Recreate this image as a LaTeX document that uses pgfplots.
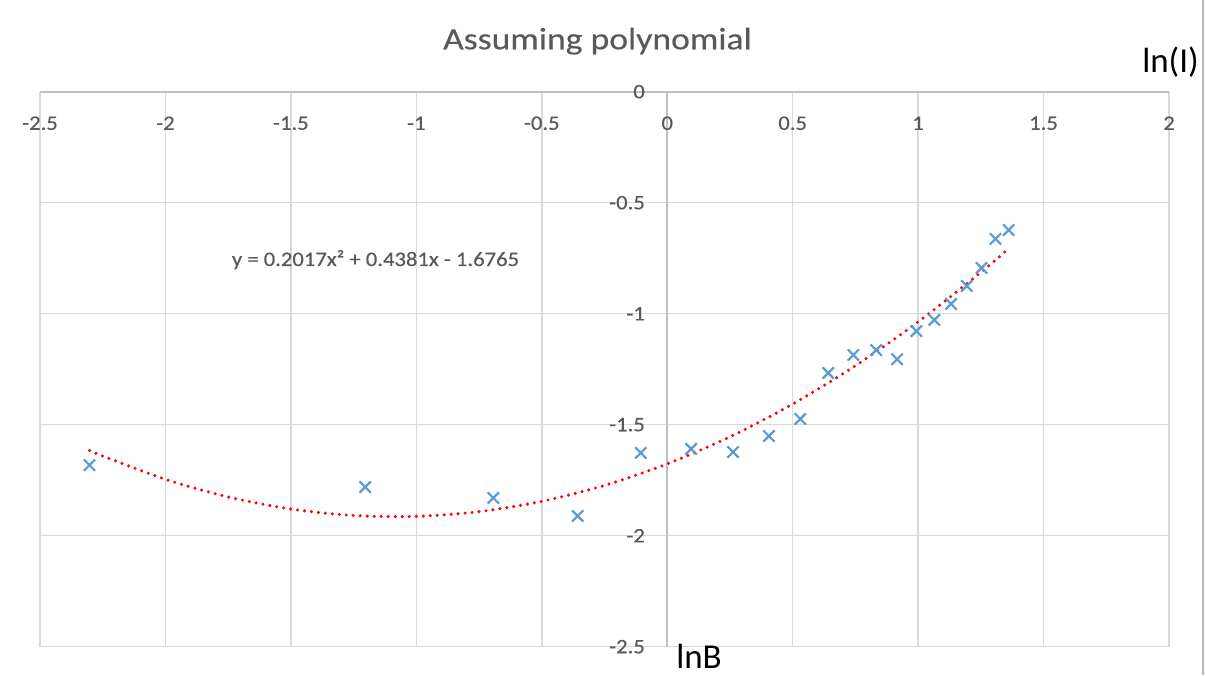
\documentclass[border=0pt]{standalone}
\usepackage{pgfplots}
\pgfplotsset{compat=1.18}
\usepackage{fontspec}
\setmainfont{Carlito}
\newfontfamily\tickfont[FakeStretch=1.1, FakeBold=0.4]{Carlito}
\newfontfamily\titlefont[FakeStretch=1.15, FakeBold=0.3]{Carlito}
\definecolor{txtgray}{HTML}{595959}
\definecolor{gridgray}{HTML}{D9D9D9}
\definecolor{axgray}{HTML}{BFBFBF}
\definecolor{mblue}{HTML}{5B9BD5}
\begin{document}
\begin{tikzpicture}
\useasboundingbox (0,0) rectangle (602.5pt,337.5pt);
\begin{axis}[
  at={(20pt,14.15pt)}, anchor=south west,
  scale only axis, width=564.5pt, height=277.5pt,
  xmin=-2.5, xmax=2, ymin=-2.5, ymax=0,
  axis lines*=middle,
  axis line style={draw=axgray, line width=1pt},
  hide obscured x ticks=false, hide obscured y ticks=false,
  xtick={-2.5,-2,-1.5,-1,-0.5,0,0.5,1,1.5,2},
  ytick={-2.5,-2,-1.5,-1,-0.5,0},
  major tick length=0pt,
  grid=major,
  major grid style={draw=gridgray, line width=0.75pt},
  /pgf/number format/assume math mode=true,
  ticklabel style={font=\tickfont\fontsize{10.3}{11}\selectfont, text=txtgray},
  xticklabel style={anchor=center, yshift=-15.75pt},
  yticklabel style={anchor=east, inner sep=0pt, xshift=-11pt},
  clip=false,
]
\addplot[only marks, mark=x, mark size=4pt, mark options={draw=mblue, line width=1.1pt}] coordinates {
(-2.3026,-1.682) (-1.2040,-1.781) (-0.6931,-1.830) (-0.3567,-1.911)
(-0.1054,-1.627) (0.0953,-1.609) (0.2624,-1.623) (0.4055,-1.551)
(0.5306,-1.474) (0.6419,-1.267) (0.7419,-1.186) (0.8329,-1.164)
(0.9163,-1.205) (0.9933,-1.078) (1.0647,-1.028) (1.1314,-0.956)
(1.1939,-0.875) (1.2528,-0.794) (1.3083,-0.663) (1.3610,-0.623)
};
\addplot[red, smooth, line width=1.7pt, line cap=round, dash pattern=on 0pt off 3.5pt] coordinates {
(-2.3026,-1.6159) (-2.25,-1.6411) (-2,-1.7459) (-1.75,-1.8255) (-1.5,-1.8799)
(-1.25,-1.9089) (-1,-1.9129) (-0.75,-1.8916) (-0.5,-1.8452) (-0.25,-1.7734)
(0,-1.6765) (0.25,-1.5544) (0.5,-1.4070) (0.75,-1.2344) (1,-1.0367)
(1.25,-0.8137) (1.361,-0.7066)
};
\end{axis}
\node[anchor=base, text=txtgray, font=\titlefont\fontsize{15.5}{17}\selectfont, inner sep=0pt] at (298.75pt,312.85pt) {Assuming polynomial};
\node[anchor=base, font=\fontsize{17.5}{19}\selectfont, inner sep=0pt] at (585.25pt,301pt) {ln(I)};
\node[anchor=base, font=\fontsize{17.5}{19}\selectfont, inner sep=0pt] at (349.5pt,3.5pt) {lnB};
\node[anchor=base, text=txtgray, font=\tickfont\fontsize{10.3}{11}\selectfont, inner sep=0pt] at (187.75pt,204.5pt) {y = 0.2017x² + 0.4381x - 1.6765};
\draw[draw=gridgray!85!black, line width=0.75pt] (601.5pt,0) -- (601.5pt,337.5pt);
\end{tikzpicture}
\end{document}
